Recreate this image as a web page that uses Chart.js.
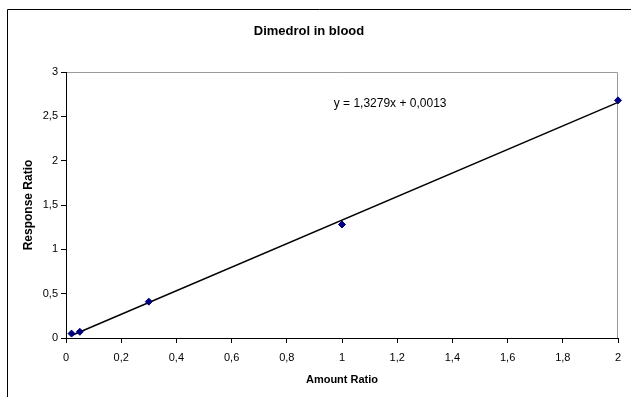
<!DOCTYPE html>
<html>
<head>
<meta charset="utf-8">
<title>Dimedrol in blood</title>
<script src="https://cdn.jsdelivr.net/npm/chart.js@4.4.1/dist/chart.umd.min.js"></script>
<style>
  html, body { margin: 0; padding: 0; background: #fff; }
  canvas { display: block; }
</style>
</head>
<body>
<canvas id="calibChart" width="631" height="397"></canvas>
<script>
  // Calibration points
  const amountRatio = [0.02, 0.05, 0.3, 1, 2];
  const responseRatio = [0.05, 0.07, 0.41, 1.28, 2.68];

  // Linear trendline as printed on the chart
  const slope = 1.3279;
  const intercept = 0.0013;
  const equationText = 'y = 1,3279x + 0,0013';

  // Axis ranges / ticks
  const xRange = [0, 2];
  const xStep = 0.2;
  const yRange = [0, 3];
  const yStep = 0.5;

  const points = amountRatio.map((x, i) => ({ x: x, y: responseRatio[i] }));
  const xFirst = amountRatio[0];
  const xLast = amountRatio[amountRatio.length - 1];
  const trendPoints = [
    { x: xFirst, y: slope * xFirst + intercept },
    { x: xLast, y: slope * xLast + intercept }
  ];

  // comma as decimal separator
  function commaTick(value) {
    const v = Math.round(value * 10) / 10;
    return v.toString().replace('.', ',');
  }

  const decorations = {
    id: 'decorations',
    beforeDraw(chart) {
      const ctx = chart.ctx;
      ctx.save();
      ctx.fillStyle = '#fff';
      ctx.fillRect(0, 0, chart.width, chart.height);
      // outer chart frame (cropped on the right and bottom)
      ctx.strokeStyle = '#000';
      ctx.lineWidth = 1;
      ctx.beginPath();
      ctx.moveTo(7.5, chart.height);
      ctx.lineTo(7.5, 9.5);
      ctx.lineTo(chart.width, 9.5);
      ctx.stroke();
      // grey top and right edge of the plot area
      const a = chart.chartArea;
      ctx.strokeStyle = '#9a9a9a';
      ctx.beginPath();
      ctx.moveTo(a.left, a.top + 0.5);
      ctx.lineTo(a.right - 0.5, a.top + 0.5);
      ctx.lineTo(a.right - 0.5, a.bottom);
      ctx.stroke();
      ctx.restore();
    },
    afterDraw(chart) {
      const ctx = chart.ctx;
      const xs = chart.scales.x;
      const ys = chart.scales.y;
      ctx.save();
      ctx.fillStyle = '#000';
      ctx.font = '12px "Liberation Sans", Arial, sans-serif';
      ctx.textAlign = 'left';
      ctx.textBaseline = 'middle';
      ctx.fillText(equationText, xs.getPixelForValue(0.97), ys.getPixelForValue(2.64));
      ctx.restore();
    }
  };

  const ctx = document.getElementById('calibChart').getContext('2d');
  new Chart(ctx, {
    type: 'scatter',
    data: {
      datasets: [
        {
          label: 'Trendline',
          data: trendPoints,
          showLine: true,
          borderColor: '#000',
          borderWidth: 1.5,
          pointRadius: 0,
          fill: false,
          clip: false,
          order: 2
        },
        {
          label: 'Dimedrol',
          data: points,
          pointStyle: 'rectRot',
          pointRadius: 3.5,
          backgroundColor: '#000080',
          borderColor: '#000080',
          borderWidth: 1,
          clip: false,
          order: 1
        }
      ]
    },
    options: {
      responsive: false,
      animation: false,
      layout: { padding: { left: 0, right: 13, top: 0, bottom: 0 } },
      plugins: {
        legend: { display: false },
        tooltip: { enabled: false },
        title: {
          display: true,
          text: 'Dimedrol in blood',
          color: '#000',
          font: { family: '"Liberation Sans", Arial, sans-serif', size: 13, weight: 'bold' },
          padding: { top: 24, bottom: 32.4 }
        }
      },
      scales: {
        x: {
          type: 'linear',
          min: xRange[0],
          max: xRange[1],
          afterFit(scale) { scale.height = 59; },
          ticks: {
            stepSize: xStep,
            color: '#000',
            padding: 8,
            maxRotation: 0,
            font: { family: '"Liberation Sans", Arial, sans-serif', size: 11 },
            callback: commaTick
          },
          grid: { display: true, drawOnChartArea: false, drawTicks: true, tickLength: 5, color: '#000' },
          border: { display: true, color: '#000', width: 1 },
          title: {
            display: true,
            text: 'Amount Ratio',
            color: '#000',
            font: { family: '"Liberation Sans", Arial, sans-serif', size: 11, weight: 'bold' },
            padding: { top: 0, bottom: 10 }
          }
        },
        y: {
          type: 'linear',
          min: yRange[0],
          max: yRange[1],
          afterFit(scale) { scale.width = 66; },
          ticks: {
            stepSize: yStep,
            color: '#000',
            padding: 3,
            font: { family: '"Liberation Sans", Arial, sans-serif', size: 11 },
            callback: commaTick
          },
          grid: { display: true, drawOnChartArea: false, drawTicks: true, tickLength: 5, color: '#000' },
          border: { display: true, color: '#000', width: 1 },
          title: {
            display: true,
            text: 'Response Ratio',
            color: '#000',
            font: { family: '"Liberation Sans", Arial, sans-serif', size: 12, weight: 'bold' },
            padding: { top: 21, bottom: 0 }
          }
        }
      }
    },
    plugins: [decorations]
  });
</script>
</body>
</html>
